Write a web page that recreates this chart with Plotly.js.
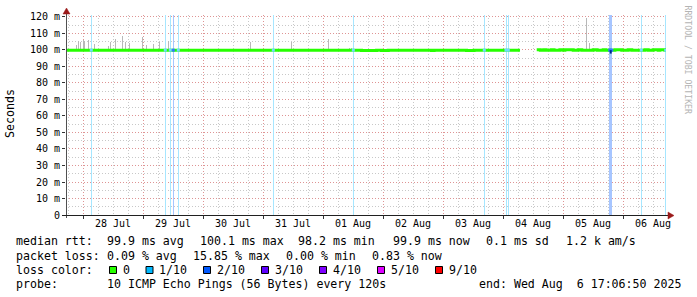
<!DOCTYPE html>
<html><head><meta charset="utf-8">
<script src="https://cdn.plot.ly/plotly-3.0.1.min.js"></script>
<style>html,body{margin:0;padding:0;background:#fff}#chart{width:697px;height:297px}</style>
</head><body><div id="chart"></div>
<script>
// ---------- data ----------
const rangeStart = '2025-07-27 17:06:50';
const rangeEnd   = '2025-08-06 17:06:50';
const days = ['2025-07-27','2025-07-28','2025-07-29','2025-07-30','2025-07-31','2025-08-01','2025-08-02','2025-08-03','2025-08-04','2025-08-05','2025-08-06'];
const dayLabels = ['28 Jul','29 Jul','30 Jul','31 Jul','01 Aug','02 Aug','03 Aug','04 Aug','05 Aug','06 Aug'];
const yTickVals = [0,10,20,30,40,50,60,70,80,90,100,110,120];
const yTickText = ['0','10 m','20 m','30 m','40 m','50 m','60 m','70 m','80 m','90 m','100 m','110 m','120 m'];
const yMinorVals = [5,15,25,35,45,55,65,75,85,95,105,115];

// median rtt (ms), step values
const medianTimes = ['2025-07-27 17:08','2025-08-01 15:20','2025-08-01 21:20','2025-08-01 23:20','2025-08-02 02:00','2025-08-02 19:20','2025-08-02 20:20','2025-08-03 09:20','2025-08-03 12:20','2025-08-04 06:43','2025-08-04 06:50',
  '2025-08-04 13:24','2025-08-04 14:50','2025-08-04 16:10','2025-08-04 17:10','2025-08-04 19:10','2025-08-04 20:20','2025-08-04 22:40','2025-08-05 00:00',
  '2025-08-05 00:40','2025-08-05 04:00','2025-08-05 06:00','2025-08-05 07:25','2025-08-05 12:00','2025-08-05 13:35','2025-08-05 16:00','2025-08-05 17:05',
  '2025-08-05 20:40','2025-08-05 23:25','2025-08-06 02:00','2025-08-06 03:25','2025-08-06 08:40','2025-08-06 10:00','2025-08-06 12:00','2025-08-06 14:00','2025-08-06 14:40','2025-08-06 16:40','2025-08-06 17:05'];
const medianValues = [99.9,99.7,99.9,99.7,99.9,99.7,99.9,99.7,99.9,99.9,null,
  100.1,99.8,100.1,99.8,100.1,99.8,100.1,99.8,
  100.1,99.8,100.1,99.8,100.1,99.8,100.1,99.8,
  100.1,99.8,100.1,99.8,100.1,99.8,100.1,99.8,100.1,99.8,99.8];

// smoke spikes (top of ping spread, ms)
const smokeTimes = ['2025-07-27 21:07','2025-07-27 22:02','2025-07-27 23:02','2025-07-28 00:07','2025-07-28 00:36','2025-07-28 02:00','2025-07-28 04:24','2025-07-28 10:02','2025-07-28 10:43','2025-07-28 12:48','2025-07-28 15:36','2025-07-28 17:02','2025-07-28 18:19','2025-07-28 23:48','2025-07-29 01:07','2025-07-29 04:02','2025-07-29 06:24','2025-07-29 10:02','2025-07-30 19:00','2025-07-31 11:24','2025-08-01 02:02','2025-08-01 10:26','2025-08-01 11:14','2025-08-01 15:07','2025-08-05 09:14','2025-08-05 10:26'];
const smokeTop = [103,105.5,104.6,106,105.5,106,103.5,102.4,104.6,106.7,108.5,104.8,104,107.6,103,103.6,104.8,105.5,104.6,105,106.7,101.2,101,100.9,119.5,104.4];
const smokeBase = 100;

// packet loss events (level in tenths)
const lossTimes = ['2025-07-28 03:14','2025-07-29 08:50','2025-07-29 10:50','2025-07-29 12:02','2025-07-29 14:02','2025-07-31 04:02','2025-08-01 12:02','2025-08-03 16:26','2025-08-04 01:07','2025-08-04 02:02','2025-08-05 18:36','2025-08-05 19:00','2025-08-05 19:24','2025-08-06 07:14','2025-08-06 17:00'];
const lossLevels = [1,1,1,2,1,1,1,1,1,1,2,2,2,1,1];

// loss dip of the median
const dipTimes = ['2025-08-05 19:00','2025-08-05 19:00'];
const dipValues = [99.9,97.8];

// legend texts
const rttStats = ['99.9 ms avg','100.1 ms max','98.2 ms min','99.9 ms now','0.1 ms sd','1.2 k am/s'];
const lossStats = ['0.09 % avg','15.85 % max','0.00 % min','0.83 % now'];
const lossLabels = ['0','1/10','2/10','3/10','4/10','5/10','9/10'];
const probeText = '10 ICMP Echo Pings (56 Bytes) every 120s';
const endText = 'end: Wed Aug  6 17:06:50 2025';

// ---------- styles / layout ----------
const lossPalette = ['#26ff00','#00b8ff','#0059ff','#5e00ff','#7e00ff','#dd00ff','#ff0000'];
const paletteIdx = {0:0,1:1,2:2,3:3,4:4,5:5,9:6};
function tint(hex, a){const r=parseInt(hex.substr(1,2),16),g=parseInt(hex.substr(3,2),16),b=parseInt(hex.substr(5,2),16);
  const m=v=>Math.round(255-(255-v)*a);return 'rgb('+m(r)+','+m(g)+','+m(b)+')';}
const L=66, T=15, W=600, H=200;
const yMax = 121.2;
const px = x => (x-L)/W;
const py = y => (T+H-y)/H;
const MONO = 'DejaVu Sans Mono';
const nb = s => s.replace(/ /g,'\u00a0');
const binMs = 24*60*1000;

const midnights = days.slice(1);
const noons = days.slice(1).map(d=>d+' 12:00');
const minorX = [];
days.forEach(d=>{['06:00','12:00','18:00'].forEach(h=>minorX.push(d+' '+h));});

const traces = [
  {type:'bar', x:lossTimes, y:lossTimes.map(()=>yMax), base:0, width:lossTimes.map(()=>binMs),
   marker:{color:lossLevels.map(l=>tint(lossPalette[paletteIdx[l]],0.35)), line:{width:0}}, hoverinfo:'skip'},
  {type:'bar', x:smokeTimes, y:smokeTop.map(v=>v-smokeBase), base:smokeBase, width:smokeTimes.map(()=>binMs),
   marker:{color:'#b8b8b8', line:{width:0}}, hoverinfo:'skip'},
  {type:'scatter', mode:'lines', x:medianTimes, y:medianValues, line:{color:'#26ff00', width:3, shape:'hv'}, connectgaps:false, hoverinfo:'skip'},
  {type:'scatter', mode:'markers', x:lossTimes, y:lossTimes.map(()=>99.9),
   marker:{symbol:'square', size:3, color:lossLevels.map(l=>tint(lossPalette[paletteIdx[l]], l>1?0.8:0.55)), line:{width:0}}, hoverinfo:'skip'},
  {type:'scatter', mode:'lines', x:dipTimes, y:dipValues, line:{color:'#002a8a', width:2}, hoverinfo:'skip'}
];

const ann = [];
dayLabels.forEach((t,i)=>ann.push({xref:'x', yref:'paper', x:noons[i], y:py(223.5), text:t, showarrow:false, xanchor:'center', yanchor:'middle', font:{family:MONO, size:10, color:'#000'}, borderpad:0, borderwidth:0}));
ann.push({xref:'paper', yref:'paper', x:px(10), y:py(114), text:'Seconds', textangle:-90, showarrow:false, xanchor:'center', yanchor:'middle', font:{family:MONO, size:11.6, color:'#000'}});
ann.push({xref:'paper', yref:'paper', x:px(688), y:py(59.5), text:nb('RRDTOOL / TOBI OETIKER'), textangle:90, showarrow:false, xanchor:'center', yanchor:'middle', font:{family:MONO, size:8.2, color:'#b4b4b4'}});
const lf = {family:MONO, size:11.6, color:'#000'};
function addText(t, x, y, anchor){ann.push({xref:'paper', yref:'paper', x:px(x), y:py(y), text:nb(t), showarrow:false, xanchor:anchor||'left', yanchor:'middle', font:lf, borderpad:0, borderwidth:0});}
const rowY = [241, 255.5, 270, 284.3];
addText('median rtt:', 16, rowY[0]);
const rttX = [106.5, 199.5, 297.5, 392.5, 486, 565.5];
rttStats.forEach((s,i)=>addText(s, rttX[i], rowY[0]));
addText('packet loss:', 16, rowY[1]);
const lossX = [106.5, 193.3, 286, 371.5];
lossStats.forEach((s,i)=>addText(s, lossX[i], rowY[1]));
addText('loss color:', 16, rowY[2]);
const sqX = [109.5, 146, 203.5, 261.5, 319.5, 377.5, 435.5];
const shapes = [];
lossLabels.forEach((s,i)=>{
  shapes.push({type:'rect', xref:'paper', yref:'paper', x0:px(sqX[i]), x1:px(sqX[i]+7), y0:py(273.5), y1:py(266.5), fillcolor:lossPalette[i], line:{color:'#000', width:1}});
  addText(s, sqX[i]+13, rowY[2]);
});
addText('probe:', 16, rowY[3]);
addText(probeText, 106.5, rowY[3]);
addText(endText, 681, rowY[3], 'right');

// axes with arrows
shapes.push({type:'line', xref:'paper', yref:'paper', x0:px(66.5), x1:px(66.5), y0:py(218), y1:py(13), line:{color:'#505050', width:1}});
shapes.push({type:'line', xref:'paper', yref:'paper', x0:px(62), x1:px(668), y0:py(215.5), y1:py(215.5), line:{color:'#202020', width:1}});
shapes.push({type:'path', xref:'paper', yref:'paper', path:'M '+px(63)+' '+py(14)+' L '+px(66.5)+' '+py(8)+' L '+px(70)+' '+py(14)+' Z', fillcolor:'#9a1a1a', line:{color:'#9a1a1a', width:0.5}});
shapes.push({type:'path', xref:'paper', yref:'paper', path:'M '+px(668)+' '+py(212)+' L '+px(674)+' '+py(215.5)+' L '+px(668)+' '+py(219)+' Z', fillcolor:'#9a1a1a', line:{color:'#9a1a1a', width:0.5}});

const layout = {
  width:697, height:297,
  margin:{l:L, r:697-L-W, t:T, b:297-T-H, pad:0},
  paper_bgcolor:'#ffffff', plot_bgcolor:'#ffffff',
  showlegend:false, barmode:'overlay', bargap:0,
  font:{family:MONO, size:10, color:'#000'},
  xaxis:{type:'date', range:[rangeStart, rangeEnd], tickmode:'array', tickvals:midnights, showticklabels:false,
    ticks:'outside', ticklen:3, tickcolor:'#333', showgrid:true, gridcolor:'#de9494', griddash:'1px,2px', gridwidth:1,
    zeroline:false, showline:false, fixedrange:true,
    minor:{tickmode:'array', tickvals:minorX, showgrid:true, gridcolor:'#c8c8c8', griddash:'1px,2px', gridwidth:1, ticks:''}},
  yaxis:{range:[0,yMax], tickmode:'array', tickvals:yTickVals, ticktext:yTickText, ticks:'outside', ticklen:3, tickcolor:'#333',
    tickfont:{family:MONO, size:10, color:'#000'},
    showgrid:true, gridcolor:'#de9494', griddash:'1px,2px', gridwidth:1, zeroline:false, showline:false, fixedrange:true,
    minor:{tickmode:'array', tickvals:yMinorVals, showgrid:true, gridcolor:'#c8c8c8', griddash:'1px,2px', gridwidth:1, ticks:''}},
  annotations:ann, shapes:shapes
};
Plotly.newPlot('chart', traces, layout, {staticPlot:true, displayModeBar:false});
</script></body></html>
